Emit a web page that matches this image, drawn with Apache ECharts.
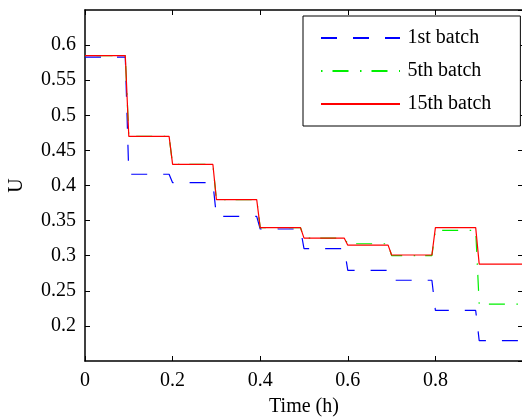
<!DOCTYPE html>
<html>
<head>
<meta charset="utf-8">
<script src="https://cdn.jsdelivr.net/npm/echarts@6/dist/echarts.min.js"></script>
<style>
  html, body { margin: 0; padding: 0; background: #fff; }
  #chart { width: 522px; height: 419px; }
</style>
</head>
<body>
<div id="chart"></div>
<script>
// Control input U held constant over each 0.1 h interval of the batch
const switchTimes = [0, 0.1, 0.2, 0.3, 0.4, 0.5, 0.6, 0.7, 0.8, 0.9, 1.0];
const batch1  = [0.583, 0.416, 0.404, 0.356, 0.338, 0.310, 0.279, 0.265, 0.222, 0.179];
const batch5  = [0.585, 0.470, 0.430, 0.380, 0.340, 0.325, 0.317, 0.300, 0.336, 0.231];
const batch15 = [0.585, 0.470, 0.430, 0.380, 0.340, 0.325, 0.315, 0.301, 0.340, 0.288];
const seriesNames = ['1st batch', '5th batch', '15th batch'];

// the input takes one sampling step to move to its new level
const rampWidth = 0.008;

function stepPath(values) {
  const pts = [];
  for (let i = 0; i < values.length; i++) {
    const t0 = switchTimes[i];
    const t1 = switchTimes[i + 1];
    pts.push([t0, values[i]]);
    pts.push([i === values.length - 1 ? t1 : t1 - rampWidth, values[i]]);
  }
  return pts;
}

const FONT = 'Liberation Serif';
const axisLine = { show: true, onZero: false, lineStyle: { color: '#000', width: 1.5 } };
const axisTick = { show: true, inside: true, length: 5, lineStyle: { color: '#000', width: 1 } };

const chart = echarts.init(document.getElementById('chart'), null, { renderer: 'canvas' });
chart.setOption({
  animation: false,
  backgroundColor: '#fff',
  textStyle: { fontFamily: FONT },
  grid: { left: 85, top: 10, width: 438, height: 351, containLabel: false, outerBoundsMode: 'none' },
  legend: {
    orient: 'vertical',
    left: 303, top: 16,
    data: seriesNames,
    itemWidth: 79, itemHeight: 14, itemGap: 13,
    padding: [12, 29, 12, 17],
    borderColor: '#000', borderWidth: 1, borderRadius: 0,
    backgroundColor: '#fff',
    itemStyle: { opacity: 0 },
    textStyle: { fontFamily: FONT, fontSize: 20, color: '#000', lineHeight: 20, padding: [0, 0, 0, 2.5] }
  },
  xAxis: [{
    type: 'value', min: 0, max: 1, interval: 0.2,
    name: 'Time (h)', nameLocation: 'middle', nameGap: 36,
    nameTextStyle: { fontFamily: FONT, fontSize: 20, color: '#000' },
    axisLine, axisTick,
    axisLabel: { fontFamily: FONT, fontSize: 20, color: '#000', margin: 10, showMaxLabel: false },
    splitLine: { show: false }
  }, {
    type: 'value', min: 0, max: 1, interval: 0.2, position: 'top',
    axisLine, axisTick, axisLabel: { show: false }, splitLine: { show: false }
  }],
  yAxis: [{
    type: 'value', min: 0.15, max: 0.65, interval: 0.05,
    name: 'U', nameLocation: 'middle', nameGap: 58,
    nameTextStyle: { fontFamily: FONT, fontSize: 20, color: '#000' },
    axisLine, axisTick,
    axisLabel: { fontFamily: FONT, fontSize: 20, color: '#000', margin: 9, showMinLabel: false, showMaxLabel: false },
    splitLine: { show: false }
  }, {
    type: 'value', min: 0.15, max: 0.65, interval: 0.05, position: 'right',
    axisLine, axisTick, axisLabel: { show: false }, splitLine: { show: false }
  }],
  series: [
    {
      name: seriesNames[0], type: 'line', data: stepPath(batch1),
      showSymbol: false, symbol: 'none', color: '#0000ff',
      lineStyle: { color: '#0000ff', width: 1.2, type: [16, 16] }
    },
    {
      name: seriesNames[1], type: 'line', data: stepPath(batch5),
      showSymbol: false, symbol: 'none', color: '#00f000',
      lineStyle: { color: '#00f000', width: 1.2, type: [1.5, 10, 16, 11.5] }
    },
    {
      name: seriesNames[2], type: 'line', data: stepPath(batch15),
      showSymbol: false, symbol: 'none', color: '#ff0000',
      lineStyle: { color: '#ff0000', width: 1.2 }
    }
  ]
});
</script>
</body>
</html>
